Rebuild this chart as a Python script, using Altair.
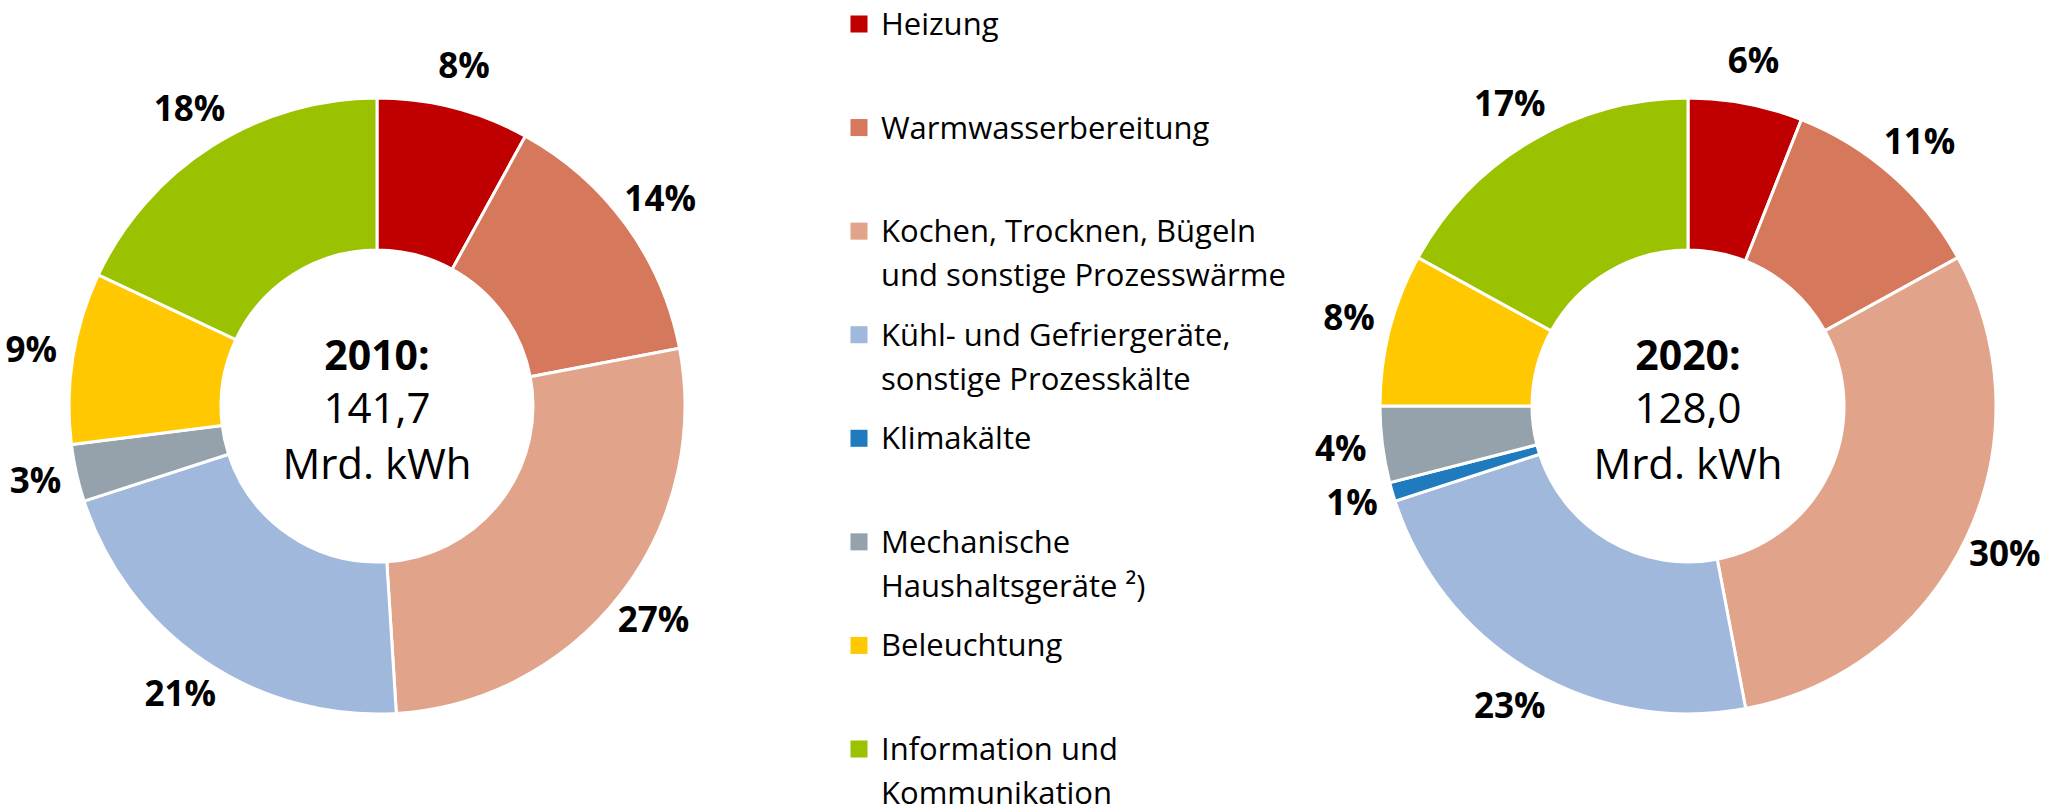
import altair as alt
import pandas as pd

FONT = "Open Sans"

categories = [
    "Heizung",
    "Warmwasserbereitung",
    "Kochen, Trocknen, Bügeln und sonstige Prozesswärme",
    "Kühl- und Gefriergeräte, sonstige Prozesskälte",
    "Klimakälte",
    "Mechanische Haushaltsgeräte ²)",
    "Beleuchtung",
    "Information und Kommunikation",
]
legend_text = [
    "Heizung",
    "Warmwasserbereitung",
    "Kochen, Trocknen, Bügeln|und sonstige Prozesswärme",
    "Kühl- und Gefriergeräte,|sonstige Prozesskälte",
    "Klimakälte",
    "Mechanische|Haushaltsgeräte ²)",
    "Beleuchtung",
    "Information und|Kommunikation",
]
colors = ["#C00000", "#D5785C", "#E1A48B", "#A1B8DD", "#1F7BBE", "#95A2AC", "#FFC800", "#9AC200"]

share_2010 = [8, 14, 27, 21, 0, 3, 9, 18]
share_2020 = [6, 11, 30, 23, 1, 4, 8, 17]

years = ["2010:", "2020:"]
totals = ["141,7", "128,0"]
unit = "Mrd. kWh"

H = 812
W_LEFT = 754
W_LEG = 558
W_RIGHT = 752

color_scale = alt.Scale(domain=categories, range=colors)


def donut(shares, year, total, width):
    df = pd.DataFrame({"cat": categories, "value": shares, "idx": list(range(len(categories)))})
    df = df[df["value"] > 0].copy()
    df["label"] = df["value"].astype(str) + "%"
    base = alt.Chart(df).encode(
        theta=alt.Theta("value:Q", stack=True),
        order=alt.Order("idx:Q"),
    )
    arcs = base.mark_arc(outerRadius=308, innerRadius=156, stroke="white", strokeWidth=3).encode(
        color=alt.Color("cat:N", scale=color_scale, legend=None)
    )
    labels = base.mark_text(
        radius=350, font=FONT, fontSize=35, fontWeight="bold", color="black"
    ).encode(text="label:N")
    cdf = pd.DataFrame({"year": [year], "total": [total + "|" + unit]})
    c1 = alt.Chart(cdf).mark_text(
        font=FONT, fontSize=41, fontWeight="bold", color="black", baseline="alphabetic"
    ).encode(x=alt.value(width / 2), y=alt.value(H / 2 - 36), text="year:N")
    c2 = alt.Chart(cdf).mark_text(
        font=FONT, fontSize=42, color="black", baseline="alphabetic", lineBreak="|", lineHeight=56
    ).encode(x=alt.value(width / 2), y=alt.value(H / 2 + 17), text="total:N")
    return alt.layer(arcs, labels, c1, c2).properties(width=width, height=H)


left = donut(share_2010, years[0], totals[0], W_LEFT)
right = donut(share_2020, years[1], totals[1], W_RIGHT)

ldf = pd.DataFrame({"cat": categories, "txt": legend_text, "idx": list(range(len(categories)))})
ybase = alt.Chart(ldf).encode(
    y=alt.Y("idx:Q", scale=alt.Scale(domain=[0, 7], range=[24, 749]), axis=None)
)
squares = ybase.mark_square(size=290, opacity=1).encode(
    x=alt.value(105),
    color=alt.Color("cat:N", scale=color_scale, legend=None),
)
ltext = ybase.mark_text(
    font=FONT, fontSize=31, color="black", align="left", baseline="alphabetic",
    lineBreak="|", lineHeight=44, dy=11,
).encode(x=alt.value(127), text="txt:N")
legend = alt.layer(squares, ltext).properties(width=W_LEG, height=H)

chart = (
    alt.hconcat(left, legend, right, spacing=0)
    .properties(padding=0, background="white")
    .configure_view(stroke=None)
    .configure_concat(spacing=0)
)

chart.save("out.html", embed_options={"renderer": "svg", "actions": False})
